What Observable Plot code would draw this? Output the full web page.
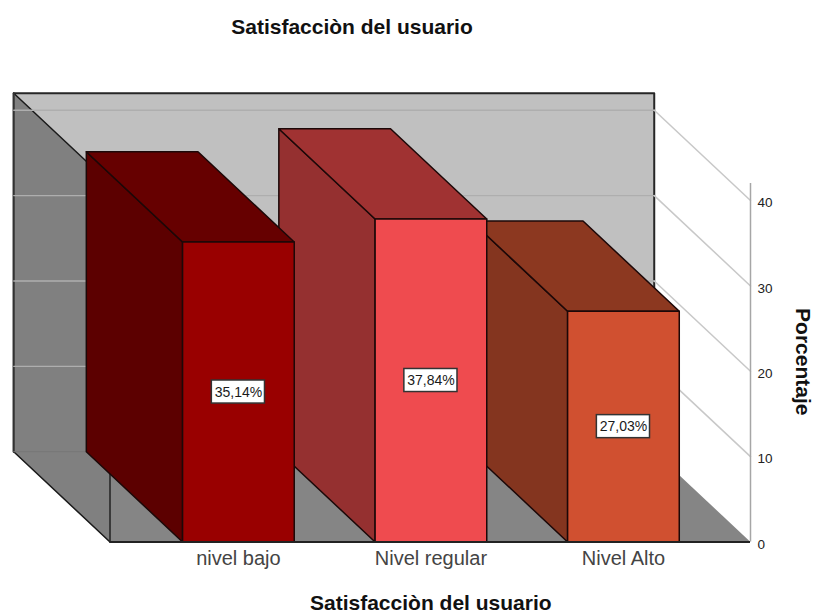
<!DOCTYPE html>
<html>
<head>
<meta charset="utf-8">
<script src="https://cdn.jsdelivr.net/npm/d3@7"></script>
<script src="https://cdn.jsdelivr.net/npm/@observablehq/plot@0.6"></script>
<style>
  html, body { margin: 0; padding: 0; background: #fff; overflow: hidden; }
  body { width: 816px; height: 613px; font-family: "Liberation Sans", Arial, sans-serif; color: #111; }
  .chart-title { height: 50px; width: 704px; box-sizing: border-box; padding-top: 16px; text-align: center; font-weight: bold; font-size: 21px; line-height: 22px; }
  .axis-caption { height: 23px; padding-left: 310px; font-weight: bold; font-size: 21px; line-height: 26px; white-space: nowrap; }
  svg { display: block; }
</style>
</head>
<body>
<div class="chart-title">Satisfacciòn del usuario</div>
<div id="chart"></div>
<div class="axis-caption">Satisfacciòn del usuario</div>
<script>
// Percentage of respondents per satisfaction level
const categories = ["nivel bajo", "Nivel regular", "Nivel Alto"];
const percentages = [35.14, 37.84, 27.03];
const frontColors = ["#990000", "#ef4b4f", "#d05030"];
const topColors = ["#660000", "#a03232", "#8c3820"];
const sideColors = ["#5c0000", "#953030", "#84351f"];
const yTicks = [0, 10, 20, 30, 40];

// Extent of the chart box along each data axis
const xMin = -0.667, xMax = 2.66, yMax = 42;
// Half width of a bar, in category units
const barHalf = 0.29;
// Oblique depth: the far side of the box shifts left and up by these data amounts
const depthX = 0.5, depthY = 10.58;

const project = (x, y, z) => ({x: x - z * depthX, y: y + z * depthY});

// Build a closed face from [x, y, z] corners
let faceId = 0;
const face = (color, corners) => {
  const id = faceId++;
  return corners.map(([x, y, z]) => ({...project(x, y, z), id, color}));
};

// Walls and floor of the box
const backWall = face("#c0c0c0", [[xMin, 0, 1], [xMax, 0, 1], [xMax, yMax, 1], [xMin, yMax, 1]]);
const floor = face("#858585", [[xMin, 0, 1], [xMax, 0, 1], [xMax, 0, 0], [xMin, 0, 0]]);
const leftWall = face("#808080", [[xMin, 0, 1], [xMin, yMax, 1], [xMin, yMax, 0], [xMin, 0, 0]]);

// Bars are painted from the right so nearer faces cover the ones behind
const barFaces = d3.range(categories.length).reverse().flatMap((i) => {
  const v = percentages[i], l = i - barHalf, r = i + barHalf;
  return [
    face(sideColors[i], [[l, 0, 0], [l, 0, 1], [l, v, 1], [l, v, 0]]),
    face(topColors[i], [[l, v, 0], [l, v, 1], [r, v, 1], [r, v, 0]]),
    face(frontColors[i], [[l, 0, 0], [r, 0, 0], [r, v, 0], [l, v, 0]])
  ];
});

// Grid: straight across the back wall, then diagonally out to the value axis
const gridTicks = yTicks.filter((t) => t > 0);
const gridAcross = gridTicks.flatMap((t) => [
  {...project(xMin, t, 1), t},
  {...project(xMax, t, 1), t}
]);
const gridOut = gridTicks.flatMap((t) => [
  {...project(xMax, t, 1), t},
  {...project(xMax, t, 0), t}
]);

const labelRows = categories.map((name, i) => ({
  i,
  mid: percentages[i] / 2,
  text: percentages[i].toFixed(2).replace(".", ",") + "%"
}));

const edge = (a, b) => [project(...a), project(...b)];

const chart = Plot.plot({
  width: 816,
  height: 540,
  marginLeft: 109.5,
  marginRight: 66,
  marginTop: 133,
  marginBottom: 48.5,
  x: {domain: [xMin, xMax], axis: null},
  y: {domain: [0, yMax], axis: null},
  color: {type: "identity"},
  style: {fontFamily: "'Liberation Sans', Arial, sans-serif", background: "#fff"},
  marks: [
    Plot.line(backWall, {x: "x", y: "y", z: "id", fill: "color", stroke: "#262626", strokeWidth: 2, curve: "linear-closed"}),
    Plot.line(floor, {x: "x", y: "y", z: "id", fill: "color", curve: "linear-closed"}),
    Plot.line(leftWall, {x: "x", y: "y", z: "id", fill: "color", curve: "linear-closed"}),
    // Outline of the left wall and floor
    Plot.line(edge([xMin, yMax, 1], [xMin, yMax, 0]), {x: "x", y: "y", stroke: "#1a1a1a", strokeWidth: 1.5}),
    Plot.line(edge([xMin, 0, 1], [xMin, 0, 0]), {x: "x", y: "y", stroke: "#1a1a1a", strokeWidth: 1.5}),
    Plot.line(edge([xMin, yMax, 1], [xMin, 0, 1]), {x: "x", y: "y", stroke: "#333", strokeWidth: 2}),
    Plot.line(edge([xMin, yMax, 0], [xMin, 0, 0]), {x: "x", y: "y", stroke: "#222", strokeWidth: 1.5}),
    Plot.line(edge([xMin, 0, 1], [xMax, 0, 1]), {x: "x", y: "y", stroke: "#777", strokeWidth: 1}),
    Plot.line(gridAcross, {x: "x", y: "y", z: "t", stroke: "#aeaeae", strokeWidth: 1.3}),
    Plot.line(gridOut, {x: "x", y: "y", z: "t", stroke: "#c8c8c8", strokeWidth: 1.5}),
    Plot.ruleX([xMax], {y1: 0, y2: yMax, stroke: "#a6a6a6", strokeWidth: 1.5}),
    Plot.line(barFaces.flat(), {x: "x", y: "y", z: "id", fill: "color", stroke: "#1c0808", strokeWidth: 1.5, curve: "linear-closed"}),
    Plot.ruleY([0], {x1: xMin, x2: xMax, stroke: "#222", strokeWidth: 2}),
    Plot.rect(labelRows, {
      x1: (d) => d.i - 0.138,
      x2: (d) => d.i + 0.138,
      y1: (d) => d.mid - 1.35,
      y2: (d) => d.mid + 1.35,
      fill: "#fff",
      stroke: "#333",
      strokeWidth: 1.5
    }),
    Plot.text(labelRows, {x: "i", y: "mid", text: "text", fontSize: 14, fill: "#1a1a1a"}),
    Plot.axisX({
      ticks: d3.range(categories.length),
      tickFormat: (i) => categories[i],
      tickSize: 0,
      tickPadding: 9,
      fontSize: 20,
      color: "#444",
      label: null
    }),
    Plot.axisY({
      anchor: "right",
      ticks: yTicks,
      tickSize: 0,
      tickPadding: 7,
      fontSize: 13.5,
      color: "#222",
      dy: 2.5,
      label: null
    }),
    Plot.text(["Porcentaje"], {
      frameAnchor: "right",
      textAnchor: "middle",
      rotate: 90,
      dx: 52,
      dy: -1,
      fontSize: 21,
      fontWeight: "bold",
      fill: "#111"
    })
  ]
});
document.getElementById("chart").appendChild(chart);
</script>
</body>
</html>
